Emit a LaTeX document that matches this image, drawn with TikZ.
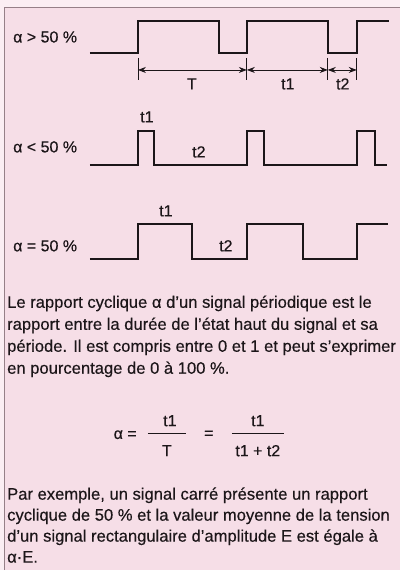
\documentclass[tikz,border=0pt]{standalone}
\usepackage{fontspec}
\setmainfont[FakeBold=0.4]{Liberation Sans}
\usetikzlibrary{arrows.meta}
\definecolor{bgpink}{RGB}{246,222,231}
\definecolor{toppink}{RGB}{251,238,243}
\definecolor{ink}{RGB}{28,22,25}
\definecolor{framec}{RGB}{150,128,136}
\begin{document}
\begin{tikzpicture}[x=1pt,y=-1pt,
  wave/.style={draw=ink,line width=1.8pt,line join=miter},
  lbl/.style={font=\fontsize{16}{19}\selectfont,text=ink,inner sep=0pt},
  para/.style={font=\fontsize{16.6}{22}\selectfont,text=ink,inner sep=0pt,anchor=base west},
  dim/.style={draw=ink,line width=0.8pt,{Stealth[length=8pt,width=6pt]}-{Stealth[length=8pt,width=6pt]}},
  tickl/.style={draw=ink,line width=0.8pt},
  fracl/.style={draw=ink,line width=0.7pt}]
\fill[toppink] (0,0) rectangle (400,570);
\fill[bgpink] (4,7) rectangle (400,570);
\draw[framec,line width=0.8pt] (4,570) -- (4,7) -- (400,7);
\useasboundingbox (0,0) rectangle (400,570);

% signal 1
\node[lbl,anchor=west] (l1) at (13,37) {α > 50 \%};
\draw[wave] (90,53) -- (138,53) -- (138,21) -- (219,21) -- (219,53) -- (247,53) -- (247,21) -- (328,21) -- (328,53) -- (357,53) -- (357,21) -- (389,21);
\coordinate (d1) at (138,70);
\coordinate (d2) at (247,70);
\coordinate (d3) at (328,70);
\coordinate (d4) at (357,70);
\foreach \xx in {138,247,328,357} {\draw[tickl] (\xx,58) -- (\xx,80);}
\draw[dim] (d1) -- (d2);
\draw[dim] (d2) -- (d3);
\draw[dim] (d3) -- (d4);
\node[lbl] (tT) at (192,84) {T};
\node[lbl] (tt1) at (288,84) {t1};
\node[lbl] (tt2) at (343,84) {t2};

% signal 2
\node[lbl,anchor=west] (l2) at (13,147) {α < 50 \%};
\draw[wave] (90,165) -- (138,165) -- (138,131) -- (154,131) -- (154,165) -- (247,165) -- (247,131) -- (264,131) -- (264,165) -- (357,165) -- (357,131) -- (375,131) -- (375,165) -- (387,165);
\node[lbl] (s2t1) at (147,117) {t1};
\node[lbl] (s2t2) at (199,152) {t2};

% signal 3
\node[lbl,anchor=west] (l3) at (13,246) {α = 50 \%};
\draw[wave] (90,259) -- (138,259) -- (138,224) -- (192,224) -- (192,259) -- (247,259) -- (247,224) -- (303,224) -- (303,259) -- (357,259) -- (357,224) -- (388,224);
\node[lbl] (s3t1) at (166,211) {t1};
\node[lbl] (s3t2) at (226,246) {t2};

% paragraph 1
\node[para] (p1) at (7,308) {Le rapport cyclique α d'un signal périodique est le};
\node[para] (p2) at (7,330) {rapport entre la durée de l'état haut du signal et sa};
\node[para] (p3) at (7,352) {période. Il est compris entre 0 et 1 et peut s'exprimer};
\node[para] (p4) at (7,374) {en pourcentage de 0 à 100 \%.};

% formula
\node[lbl,anchor=east] (fa) at (137,435) {α =};
\draw[fracl] (148,434) -- (186,434);
\node[lbl] (fn1) at (170,421) {t1};
\node[lbl] (fd1) at (167,451) {T};
\node[lbl] (feq) at (209,435) {=};
\draw[fracl] (232,434) -- (284,434);
\node[lbl] (fn2) at (258,421) {t1};
\node[lbl] (fd2) at (258,451) {t1 + t2};

% paragraph 2
\node[para] (q1) at (7,500) {Par exemple, un signal carré présente un rapport};
\node[para] (q2) at (7,521) {cyclique de 50 \% et la valeur moyenne de la tension};
\node[para] (q3) at (7,542) {d'un signal rectangulaire d'amplitude E est égale à};
\node[para] (q4) at (7,563) {α·E.};
\end{tikzpicture}
\end{document}
